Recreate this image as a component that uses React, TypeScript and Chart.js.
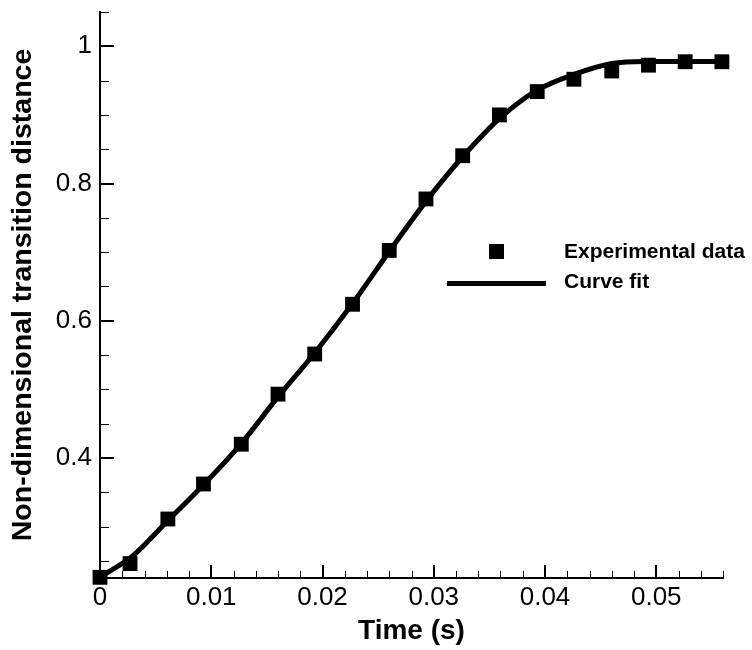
import React, { useEffect, useRef } from "react";
import { Chart, registerables } from "chart.js";

Chart.register(...registerables);

// Experimental data (squares)
const expX = [0, 0.0027, 0.0061, 0.0093, 0.0127, 0.016, 0.0193, 0.0227, 0.026, 0.0293, 0.0326, 0.0359, 0.0393, 0.0426, 0.046, 0.0493, 0.0526, 0.0559];
const expY = [0.226, 0.246, 0.311, 0.362, 0.42, 0.493, 0.5515, 0.624, 0.7025, 0.7775, 0.8405, 0.9, 0.934, 0.952, 0.964, 0.9725, 0.9775, 0.9775];

// Curve fit (solid line)
const curveX = [0, 0.003, 0.006, 0.0093, 0.0127, 0.016, 0.0193, 0.0227, 0.026, 0.0293, 0.0326, 0.036, 0.0393, 0.0426, 0.046, 0.049, 0.056];
const curveY = [0.226, 0.258, 0.307, 0.361, 0.421, 0.489, 0.553, 0.625, 0.701, 0.774, 0.839, 0.896, 0.936, 0.959, 0.975, 0.978, 0.978];

// Axis ticks
const xMajorTicks = [0, 0.01, 0.02, 0.03, 0.04, 0.05];
const xTickLabels = ["0", "0.01", "0.02", "0.03", "0.04", "0.05"];
const xMinorTicks = [0.002, 0.004, 0.006, 0.008, 0.012, 0.014, 0.016, 0.018, 0.022, 0.024, 0.026, 0.028, 0.032, 0.034, 0.036, 0.038, 0.042, 0.044, 0.046, 0.048, 0.052, 0.054, 0.056];
const yMajorTicks = [0.4, 0.6, 0.8, 1];
const yTickLabels = ["0.4", "0.6", "0.8", "1"];
const yMinorTicks = [0.25, 0.3, 0.35, 0.45, 0.5, 0.55, 0.65, 0.7, 0.75, 0.85, 0.9, 0.95, 1.05];

const X_MIN = 0;
const X_MAX = 0.056;
const Y_MIN = 0.225;
const Y_MAX = 1.05;

const legendLabels = ["Experimental data", "Curve fit"];
const xTitle = "Time (s)";
const yTitle = "Non-dimensional transition distance";

const FONT = "'Liberation Sans', Arial, Helvetica, sans-serif";

const tickMarksPlugin = {
  id: "inwardTicks",
  afterDatasetsDraw(chart: any) {
    const { ctx, scales } = chart;
    const xs = scales.x;
    const ys = scales.y;
    const bottom = chart.chartArea.bottom;
    const left = chart.chartArea.left;
    ctx.save();
    ctx.strokeStyle = "#000";
    ctx.lineCap = "butt";
    const drawX = (vals: number[], len: number, w: number) => {
      ctx.lineWidth = w;
      vals.forEach((v) => {
        const px = Math.round(xs.getPixelForValue(v)) + (w % 2 ? 0.5 : 0);
        ctx.beginPath();
        ctx.moveTo(px, bottom);
        ctx.lineTo(px, bottom - len);
        ctx.stroke();
      });
    };
    const drawY = (vals: number[], len: number, w: number) => {
      ctx.lineWidth = w;
      vals.forEach((v) => {
        const py = Math.round(ys.getPixelForValue(v)) + (w % 2 ? 0.5 : 0);
        ctx.beginPath();
        ctx.moveTo(left, py);
        ctx.lineTo(left + len, py);
        ctx.stroke();
      });
    };
    drawX(xMinorTicks, 7, 1);
    drawX(xMajorTicks, 13, 2);
    drawY(yMinorTicks, 9, 1);
    drawY(yMajorTicks, 14, 2);
    ctx.restore();
  },
};

const legendPlugin = {
  id: "customLegend",
  afterDraw(chart: any) {
    const { ctx } = chart;
    ctx.save();
    ctx.fillStyle = "#000";
    // square marker
    ctx.fillRect(489, 244, 15, 15);
    // line sample
    ctx.strokeStyle = "#000";
    ctx.lineWidth = 5;
    ctx.beginPath();
    ctx.moveTo(447, 283.5);
    ctx.lineTo(546, 283.5);
    ctx.stroke();
    ctx.font = `bold 21px ${FONT}`;
    ctx.textBaseline = "middle";
    ctx.textAlign = "left";
    ctx.fillText(legendLabels[0], 564, 252);
    ctx.fillText(legendLabels[1], 564, 282);
    ctx.restore();
  },
};

export default function App() {
  const ref = useRef<HTMLCanvasElement | null>(null);
  useEffect(() => {
    if (!ref.current) return;
    const chart = new Chart(ref.current, {
      type: "scatter",
      data: {
        datasets: [
          {
            label: legendLabels[1],
            data: curveX.map((x, i) => ({ x, y: curveY[i] })),
            showLine: true,
            borderColor: "#000",
            borderWidth: 5,
            pointRadius: 0,
            cubicInterpolationMode: "monotone",
            clip: false,
            order: 2,
          } as any,
          {
            label: legendLabels[0],
            data: expX.map((x, i) => ({ x, y: expY[i] })),
            showLine: false,
            pointStyle: "rect",
            pointRadius: 10.5,
            pointBorderWidth: 0,
            backgroundColor: "#000",
            borderColor: "#000",
            clip: false,
            order: 1,
          } as any,
        ],
      },
      options: {
        animation: false,
        responsive: true,
        maintainAspectRatio: false,
        layout: { padding: { top: 12, right: 29, left: 0, bottom: 0 } },
        plugins: {
          legend: { display: false },
          tooltip: { enabled: false },
        },
        scales: {
          x: {
            type: "linear",
            min: X_MIN,
            max: X_MAX,
            grid: { display: false, drawTicks: false },
            border: { display: true, color: "#000", width: 2 },
            afterBuildTicks: (s: any) => {
              s.ticks = xMajorTicks.map((v) => ({ value: v }));
            },
            afterFit: (s: any) => {
              s.height = 72;
              s.paddingLeft = 0;
              s.paddingRight = 0;
            },
            ticks: {
              color: "#000",
              padding: 4,
              maxRotation: 0,
              autoSkip: false,
              font: { family: FONT, size: 26 },
              callback: (v: any) => {
                const i = xMajorTicks.findIndex((t) => Math.abs(t - v) < 1e-9);
                return i >= 0 ? xTickLabels[i] : "";
              },
            },
            title: {
              display: true,
              text: xTitle,
              color: "#000",
              font: { family: FONT, size: 28, weight: "bold" },
              padding: { top: 0, bottom: 2 },
            },
          },
          y: {
            type: "linear",
            min: Y_MIN,
            max: Y_MAX,
            grid: { display: false, drawTicks: false },
            border: { display: true, color: "#000", width: 2 },
            afterBuildTicks: (s: any) => {
              s.ticks = yMajorTicks.map((v) => ({ value: v }));
            },
            afterFit: (s: any) => {
              s.width = 100;
              s.paddingTop = 0;
              s.paddingBottom = 0;
            },
            ticks: {
              color: "#000",
              padding: 8,
              autoSkip: false,
              font: { family: FONT, size: 26 },
              callback: (v: any) => {
                const i = yMajorTicks.findIndex((t) => Math.abs(t - v) < 1e-9);
                return i >= 0 ? yTickLabels[i] : "";
              },
            },
            title: {
              display: true,
              text: yTitle,
              color: "#000",
              font: { family: FONT, size: 28.5, weight: "bold" },
              padding: { top: 6, bottom: 0 },
            },
          },
        },
      },
      plugins: [tickMarksPlugin, legendPlugin],
    });
    return () => chart.destroy();
  }, []);
  return (
    <div style={{ position: "absolute", left: 0, top: 0, width: 752, height: 650, background: "#fff" }}>
      <canvas ref={ref} style={{ display: "block" }} />
    </div>
  );
}
